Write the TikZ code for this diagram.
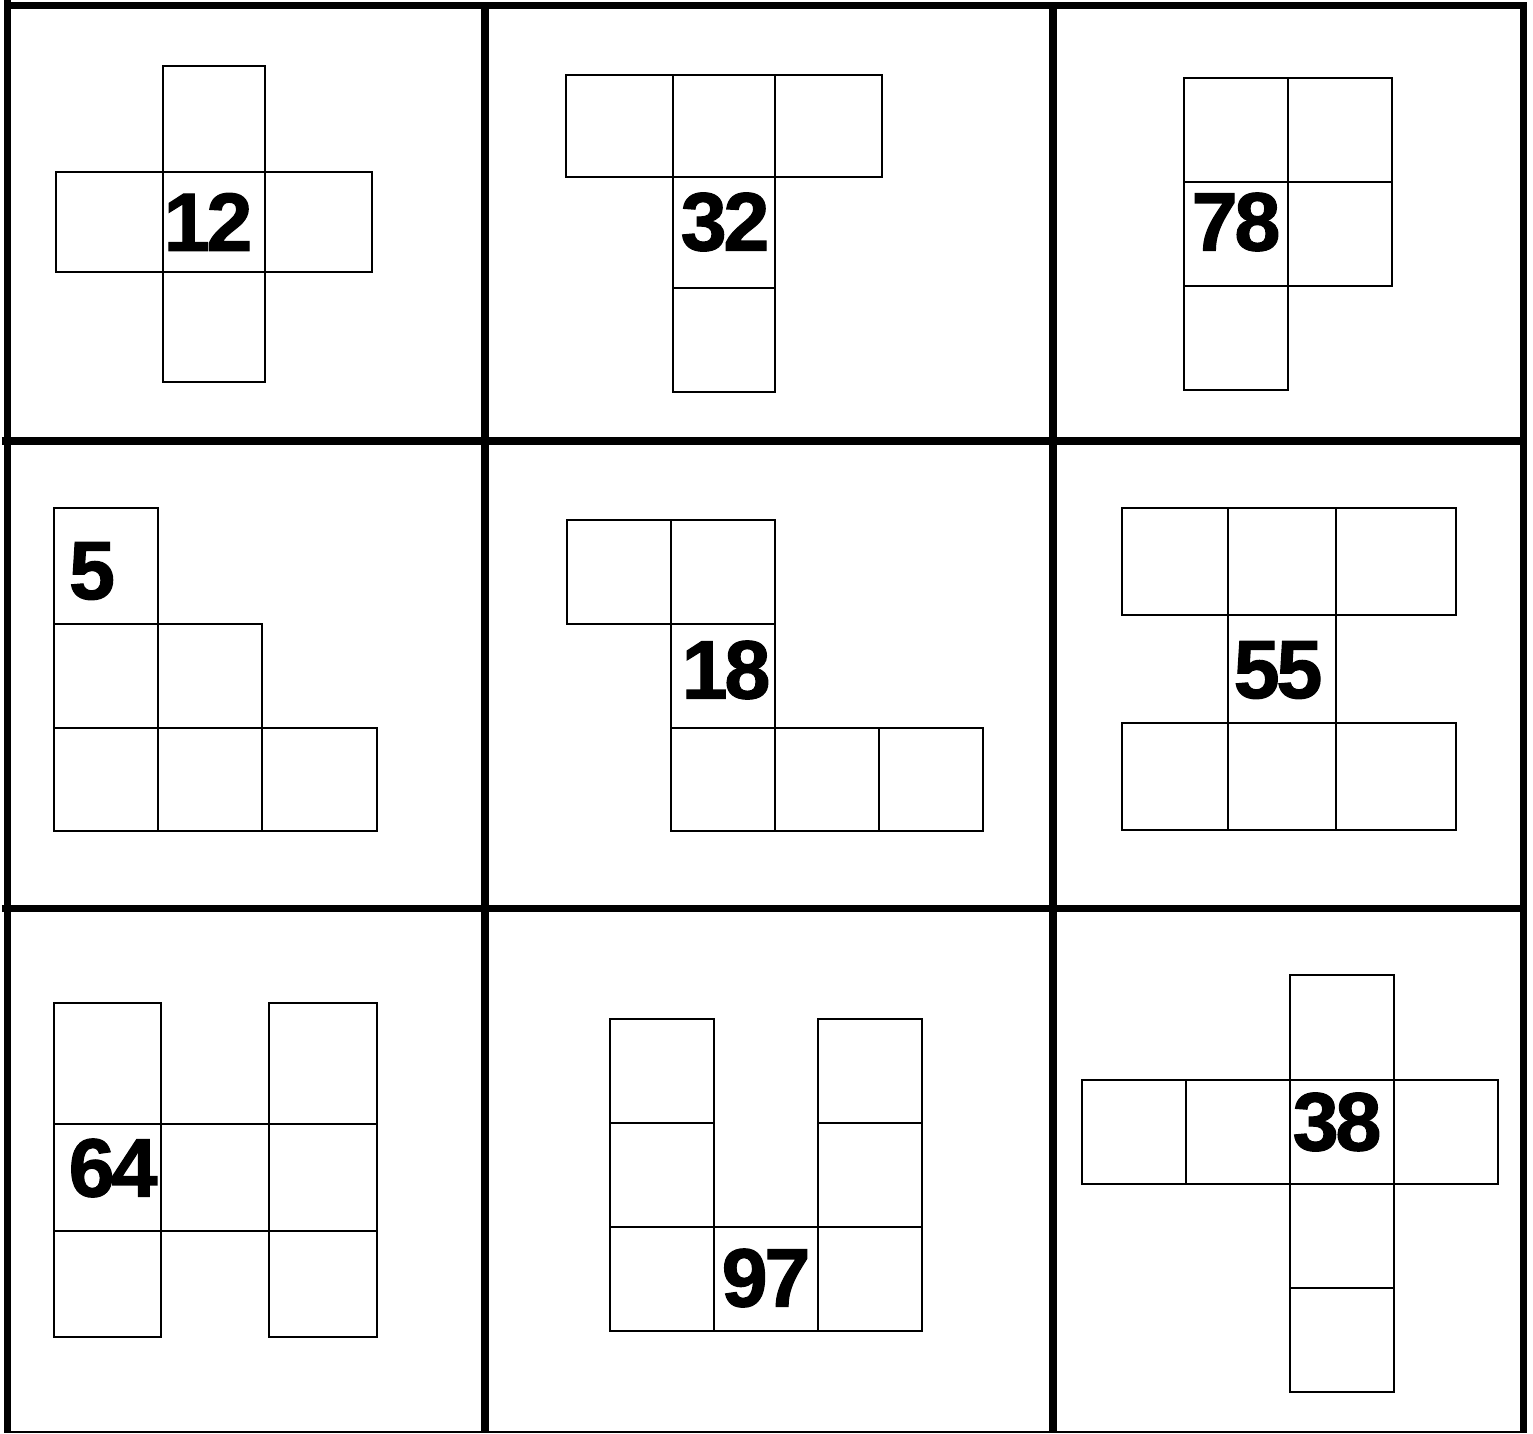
\documentclass[tikz,border=0pt]{standalone}
\usepackage{fontspec}
\setmainfont{Liberation Sans}
\newfontfamily\numfont[LetterSpace=-4,BoldFeatures={FakeBold=1.5}]{Liberation Sans}
\tikzset{
  gridline/.style={line width=2pt},
  sq/.style={line width=0.6pt},
  num/.style={inner sep=0pt,font=\numfont\bfseries\fontsize{23.5}{26}\selectfont}
}

\begin{document}
\begin{tikzpicture}[x=0.01cm,y=-0.01cm]
\useasboundingbox (0,0) rectangle (1533,1433);
% outer frame and grid
\draw[gridline] (7.5,0) -- (7.5,1433);
\draw[gridline] (485,2) -- (485,1433);
\draw[gridline] (1053,2) -- (1053,1433);
\draw[gridline] (1523.5,2) -- (1523.5,1433);
\draw[gridline] (4,5.5) -- (1527,5.5);
\draw[gridline] (2,441) -- (1527,441);
\draw[gridline] (2,908.5) -- (1527,908.5);
\draw[sq] (4,1432) -- (1527,1432);

% cell 1: cross
\draw[sq] (163,66) rectangle (265,172);
\draw[sq] (56,172) rectangle (163,272);
\draw[sq] (163,172) rectangle (265,272);
\draw[sq] (265,172) rectangle (372,272);
\draw[sq] (163,272) rectangle (265,382);
\node[num] (n12) at (208,222) {12};

% cell 2: T
\draw[sq] (566,75) rectangle (673,177);
\draw[sq] (673,75) rectangle (775,177);
\draw[sq] (775,75) rectangle (882,177);
\draw[sq] (673,177) rectangle (775,288);
\draw[sq] (673,288) rectangle (775,392);
\node[num] (n32) at (725,222) {32};

% cell 3
\draw[sq] (1184,78) rectangle (1288,182);
\draw[sq] (1288,78) rectangle (1392,182);
\draw[sq] (1184,182) rectangle (1288,286);
\draw[sq] (1288,182) rectangle (1392,286);
\draw[sq] (1184,286) rectangle (1288,390);
\node[num] (n78) at (1236,222) {78};

% cell 4: staircase
\draw[sq] (54,508) rectangle (158,624);
\draw[sq] (54,624) rectangle (158,728);
\draw[sq] (158,624) rectangle (262,728);
\draw[sq] (54,728) rectangle (158,831);
\draw[sq] (158,728) rectangle (262,831);
\draw[sq] (262,728) rectangle (377,831);
\node[num] (n5) at (92,571) {5};

% cell 5
\draw[sq] (567,520) rectangle (671,624);
\draw[sq] (671,520) rectangle (775,624);
\draw[sq] (671,624) rectangle (775,728);
\draw[sq] (671,728) rectangle (775,831);
\draw[sq] (775,728) rectangle (879,831);
\draw[sq] (879,728) rectangle (983,831);
\node[num] (n18) at (726,670) {18};

% cell 6
\draw[sq] (1122,508) rectangle (1228,615);
\draw[sq] (1228,508) rectangle (1336,615);
\draw[sq] (1336,508) rectangle (1456,615);
\draw[sq] (1228,615) rectangle (1336,723);
\draw[sq] (1122,723) rectangle (1228,830);
\draw[sq] (1228,723) rectangle (1336,830);
\draw[sq] (1336,723) rectangle (1456,830);
\node[num] (n55) at (1278,670) {55};

% cell 7: H
\draw[sq] (54,1003) rectangle (161,1124);
\draw[sq] (269,1003) rectangle (377,1124);
\draw[sq] (54,1124) rectangle (161,1231);
\draw[sq] (161,1124) rectangle (269,1231);
\draw[sq] (269,1124) rectangle (377,1231);
\draw[sq] (54,1231) rectangle (161,1337);
\draw[sq] (269,1231) rectangle (377,1337);
\node[num] (n64) at (113,1168) {64};

% cell 8: U
\draw[sq] (610,1019) rectangle (714,1123);
\draw[sq] (818,1019) rectangle (922,1123);
\draw[sq] (610,1123) rectangle (714,1227);
\draw[sq] (818,1123) rectangle (922,1227);
\draw[sq] (610,1227) rectangle (714,1331);
\draw[sq] (714,1227) rectangle (818,1331);
\draw[sq] (818,1227) rectangle (922,1331);
\node[num] (n97) at (766,1278) {97};

% cell 9
\draw[sq] (1290,975) rectangle (1394,1080);
\draw[sq] (1082,1080) rectangle (1186,1184);
\draw[sq] (1186,1080) rectangle (1290,1184);
\draw[sq] (1290,1080) rectangle (1394,1184);
\draw[sq] (1394,1080) rectangle (1498,1184);
\draw[sq] (1290,1184) rectangle (1394,1288);
\draw[sq] (1290,1288) rectangle (1394,1392);
\node[num] (n38) at (1337,1122) {38};
\end{tikzpicture}
\end{document}
